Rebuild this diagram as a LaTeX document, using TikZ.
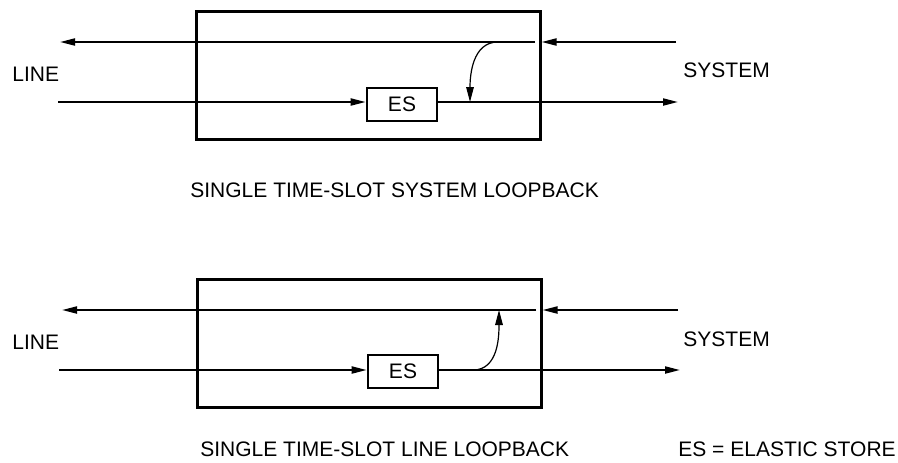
\documentclass[tikz,border=0pt]{standalone}
\usepackage{fontspec}
\setmainfont{Liberation Sans}
\usetikzlibrary{arrows.meta, positioning}

\begin{document}
\begin{tikzpicture}[x=0.5pt, y=-0.5pt,
      every node/.style={font=\fontsize{10.5}{12}\selectfont},
      unit/.style={draw, line width=1.5pt, minimum width=172pt, minimum height=64pt, inner sep=0pt},
      store/.style={draw, line width=1.3pt, minimum width=35pt, minimum height=16.5pt, inner sep=0pt},
      lbl/.style={anchor=west, inner sep=0pt},
      sig/.style={line width=1pt, -{Triangle[length=7.5pt, width=3.5pt]}},
      loopa/.style={line width=0.6pt, -{Triangle[length=7.5pt, width=3.8pt]}}]
    \useasboundingbox (0,0) rectangle (898,462);

    % system loopback
    \node[unit]  (boxS) at (368,75)    {};
    \node[store] (esS)  at (402,104.5) {ES};
    \coordinate (sysInS)  at (676,42);
    \coordinate (innerS)  at (535,42);
    \coordinate (lineOutS) at (60,42);
    \coordinate (lineInS) at (58,102);
    \coordinate (sysOutS) at (678,102);
    \coordinate (tapS)  at (498,42);
    \coordinate (dropS) at (470,102);
    \draw[sig] (sysInS) -- (boxS.east |- sysInS);
    \draw[sig] (innerS) -- (lineOutS);
    \draw[sig] (lineInS) -- (lineInS -| esS.west);
    \draw[sig] (esS.east |- sysOutS) -- (sysOutS);
    \draw[loopa] (tapS) to[out=180, in=90] (dropS);
    \node[lbl] (lineS) at (12,74)  {LINE};
    \node[lbl] (sysS)  at (683,70) {SYSTEM};
    \node[lbl] (capS)  at (190,190) {SINGLE TIME-SLOT SYSTEM LOOPBACK};

    % line loopback
    \begin{scope}[shift={(0,268)}]
      \node[unit]  (boxL) at (369,75)    {};
      \node[store] (esL)  at (403,103.5) {ES};
      \coordinate (sysInL)  at (678,42);
      \coordinate (innerL)  at (536,42);
      \coordinate (lineOutL) at (62,42);
      \coordinate (lineInL) at (59,102);
      \coordinate (sysOutL) at (680,102);
      \coordinate (tapL)  at (473,102);
      \coordinate (riseL) at (499,42);
      \draw[sig] (sysInL) -- (boxL.east |- sysInL);
      \draw[sig] (innerL) -- (lineOutL);
      \draw[sig] (lineInL) -- (lineInL -| esL.west);
      \draw[sig] (esL.east |- sysOutL) -- (sysOutL);
      \draw[loopa] (tapL) to[out=0, in=-90] (riseL);
      \node[lbl] (lineL) at (12,74)  {LINE};
      \node[lbl] (sysL)  at (683,71) {SYSTEM};
      \node[lbl] (capL)  at (200,181) {SINGLE TIME-SLOT LINE LOOPBACK};
      \node[lbl] (keyL)  at (678,181) {ES = ELASTIC STORE};
    \end{scope}
  \end{tikzpicture}
\end{document}
